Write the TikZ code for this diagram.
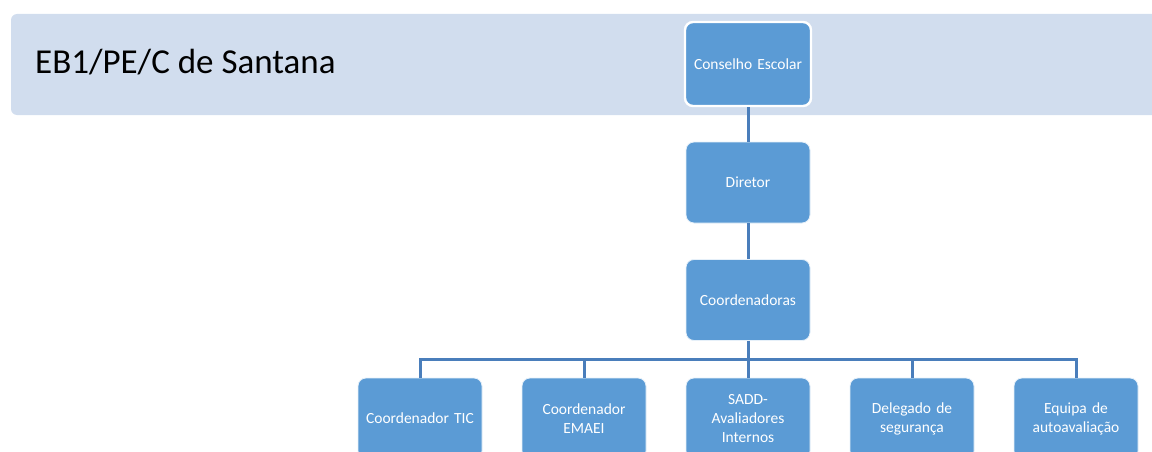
\documentclass[tikz,border=0pt]{standalone}
\usepackage{fontspec}
\setmainfont{Carlito}
\definecolor{banner}{HTML}{D1DDEE}
\definecolor{boxfill}{HTML}{5B9BD5}
\definecolor{conn}{HTML}{4A7EBB}
\begin{document}
\begin{tikzpicture}[x=1pt,y=-1pt,
  orgbox/.style={draw=white!85!boxfill, line width=0.8pt, fill=boxfill, rounded corners=8pt,
    minimum width=124pt, minimum height=81pt, inner sep=2pt, text=white, align=center,
    font=\fontsize{15.5}{19}\selectfont, text width=118pt},
  topbox/.style={orgbox, draw=white, line width=2.4pt, minimum width=126pt, minimum height=84pt},
  link/.style={draw=conn, line width=3pt}]
\useasboundingbox (0,0) rectangle (1152,452);
\clip (0,0) rectangle (1152,452);
% banner
\path[fill=banner, rounded corners=6pt] (11,14) rectangle (1180,115);
\node[anchor=base west, inner sep=0pt, font=\fontsize{35}{42}\selectfont] (title) at (35,74) {EB1/PE/C de Santana};
% nodes
\node[topbox] (cons) at (748,64) {Conselho Escolar};
\node[orgbox] (dir) at (748,182.5) {Diretor};
\node[orgbox] (coord) at (748,300) {Coordenadoras};
\node[orgbox] (tic) at (420,418.5) {Coordenador TIC};
\node[orgbox] (emaei) at (584,418.5) {Coordenador\\EMAEI};
\node[orgbox] (sadd) at (748,418.5) {SADD-\\Avaliadores\\Internos};
\node[orgbox] (seg) at (912,418.5) {Delegado de\\segurança};
\node[orgbox] (auto) at (1076,418.5) {Equipa de\\autoavaliação};
\coordinate (bar) at (748,359);
% connectors
\draw[link] (cons.south) -- (dir.north);
\draw[link] (dir.south) -- (coord.north);
\draw[link] (coord.south) -- (bar);
\draw[link] (tic.north) -- (tic.north |- bar) -- (auto.north |- bar) -- (auto.north);
\draw[link] (emaei.north) -- (emaei.north |- bar);
\draw[link] (sadd.north) -- (bar);
\draw[link] (seg.north) -- (seg.north |- bar);
\end{tikzpicture}
\end{document}
